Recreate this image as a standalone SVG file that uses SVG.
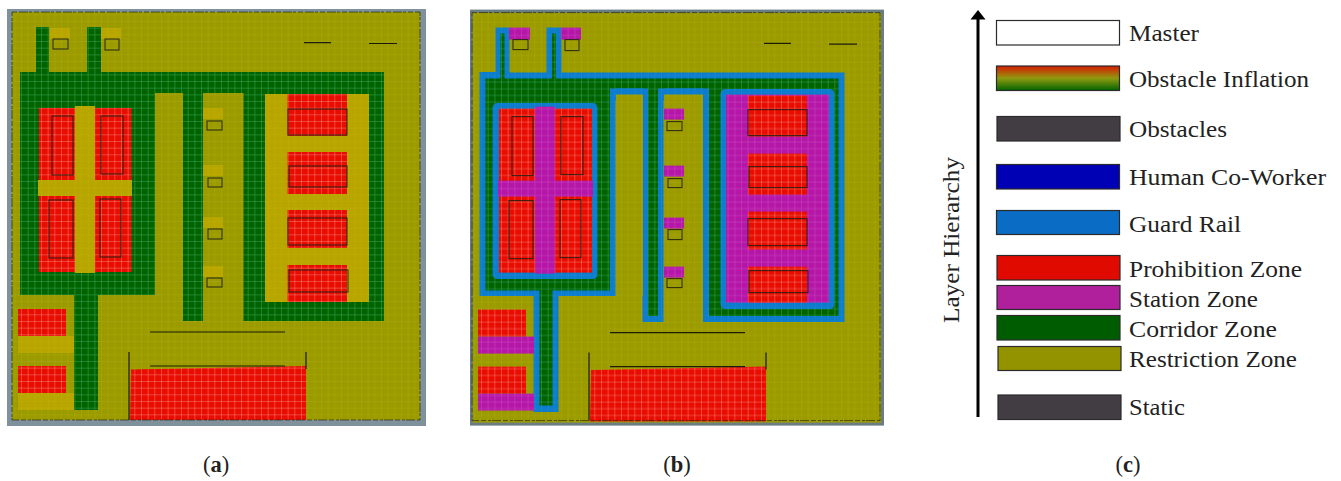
<svg xmlns="http://www.w3.org/2000/svg" xmlns:xlink="http://www.w3.org/1999/xlink" width="1341" height="481" viewBox="0 0 1341 481">
<style>
.ol{fill:url(#p-ol)}.gr{fill:url(#p-gr)}.rd{fill:url(#p-rd)}.ye{fill:url(#p-ye)}.ma{fill:url(#p-ma)}.bl{fill:url(#p-bl)}
.ob{fill:none;stroke:#1e1e12;stroke-width:1.1;opacity:.85}
.wl{fill:none;stroke:#1c1c0a;stroke-width:1.2}
.edge{fill:none;stroke:#26261a;stroke-width:.9;stroke-dasharray:5 2 9 1 3 2;opacity:.75}
.box{stroke:#2b2b2b;stroke-width:1.2}
.gl{fill:none;stroke-width:.7}
text{font-family:"Liberation Serif","Times New Roman",serif;fill:#222;font-size:23.5px}
.cap{font-size:22.5px}
.fuzzy{filter:url(#soft)}
</style>
<defs>
<filter id="soft" x="-2%" y="-2%" width="104%" height="104%"><feGaussianBlur stdDeviation="0.5"/></filter>
<pattern id="p-ol" width="20" height="20" patternUnits="userSpaceOnUse" x="1" y="1"><rect width="20" height="20" fill="#9b9b00"/><path class="gl" d="M0 .5H20M0 7.170H20M0 13.830H20M.5 0V20M7.170 0V20M13.830 0V20" stroke="#c4c440" stroke-opacity=".18"/></pattern>
<pattern id="p-gr" width="20" height="20" patternUnits="userSpaceOnUse" x="1" y="1"><rect width="20" height="20" fill="#006400"/><path class="gl" d="M0 .5H20M0 7.170H20M0 13.830H20M.5 0V20M7.170 0V20M13.830 0V20" stroke="#5fd0a0" stroke-opacity=".4"/></pattern>
<pattern id="p-rd" width="20" height="20" patternUnits="userSpaceOnUse" x="1" y="1"><rect width="20" height="20" fill="#e80c00"/><path class="gl" d="M0 .5H20M0 7.170H20M0 13.830H20M.5 0V20M7.170 0V20M13.830 0V20" stroke="#ffc0b0" stroke-opacity=".45"/></pattern>
<pattern id="p-ye" width="20" height="20" patternUnits="userSpaceOnUse" x="1" y="1"><rect width="20" height="20" fill="#b8a600"/><path class="gl" d="M0 .5H20M0 7.170H20M0 13.830H20M.5 0V20M7.170 0V20M13.830 0V20" stroke="#d8cc40" stroke-opacity=".12"/></pattern>
<pattern id="p-ma" width="20" height="20" patternUnits="userSpaceOnUse" x="1" y="1"><rect width="20" height="20" fill="#b618a8"/><path class="gl" d="M0 .5H20M0 7.170H20M0 13.830H20M.5 0V20M7.170 0V20M13.830 0V20" stroke="#e090e0" stroke-opacity=".25"/></pattern>
<pattern id="p-bl" width="20" height="20" patternUnits="userSpaceOnUse" x="1" y="1"><rect width="20" height="20" fill="#0a7ccc"/><path class="gl" d="M0 .5H20M0 7.170H20M0 13.830H20M.5 0V20M7.170 0V20M13.830 0V20" stroke="#70c0f0" stroke-opacity=".15"/></pattern>
<linearGradient id="infl" x1="0" y1="0" x2="0" y2="1"><stop offset="0" stop-color="#d81a00"/><stop offset=".5" stop-color="#8f9a10"/><stop offset="1" stop-color="#006400"/></linearGradient>
<g id="walls">
<g class="ob">
<rect x="53" y="39" width="15" height="10"/><rect x="105" y="39" width="14" height="11"/>
<rect x="52" y="116" width="21" height="59"/><rect x="101" y="116" width="22" height="58"/><rect x="49" y="200" width="24" height="58"/><rect x="100" y="199" width="21" height="58"/>
<rect x="207" y="121" width="15" height="9"/><rect x="208" y="178" width="14" height="9"/><rect x="208" y="229" width="14" height="10"/><rect x="207" y="278" width="15" height="9"/>
<rect x="288" y="109" width="59" height="26"/><rect x="289" y="166" width="58" height="21"/><rect x="288" y="218" width="59" height="27"/><rect x="289" y="270" width="59" height="22"/>
</g>
<path class="wl" d="M304 42.700H331M369 43.500H397M150 332H285M150 366H285M129 352V420M306 352V369"/>
<path class="edge" d="M12 12H420V420H12Z"/>
</g>
</defs>

<g id="panel-a" class="fuzzy">
<rect x="7" y="9" width="419" height="417" fill="#7f929b"/>
<rect class="ol" x="12" y="12" width="408" height="408"/>
<path class="gr" d="M36 27H49V72H87V27H101V72H384V321H243.500V93H203V321H183V93H155V295H98V410H74V295H20V72H36Z"/>
<path class="ye" d="M265 94H369V302H265Z"/>
<g class="rd">
<rect x="39" y="108" width="92.500" height="164"/>
<rect x="287.500" y="94" width="59.500" height="42"/><rect x="287.500" y="152" width="59.500" height="42"/><rect x="287.500" y="210" width="59.500" height="38"/><rect x="287.500" y="265" width="59.500" height="37"/>
<rect x="18" y="309" width="48" height="27"/><rect x="18" y="366" width="48" height="27"/>
<path d="M131 369.500L306 366V420H130Z"/>
</g>
<g class="ye">
<rect x="75" y="106" width="20" height="167"/><rect x="38" y="180" width="94" height="16"/>
<rect x="50" y="28" width="20" height="11"/><rect x="101" y="28" width="20" height="11"/>
<rect x="203" y="108" width="20" height="11"/><rect x="203" y="165" width="20" height="11"/><rect x="203" y="217" width="20" height="11"/><rect x="203" y="266" width="20" height="11"/>
<rect x="18" y="336" width="56" height="17"/><rect x="18" y="393" width="56" height="17"/>
</g>
<use href="#walls" xlink:href="#walls"/>
</g>

<g id="panel-b" class="fuzzy" transform="translate(460 .6)">
<rect x="10" y="9" width="414" height="416" fill="#6a7b84"/>
<rect class="ol" x="12.500" y="12" width="408.500" height="410"/>
<path class="bl" d="M35.500 27H49.500V72H86.500V27H101.500V72H384.500V321.500H243V93H203.500V321.500H182.500V93H155.500V295.500H98.500V411.500H73.500V295.500H19.500V71.500H35.500Z"/>
<path class="gr" d="M40.500 33H44.500V78H92V33H96V78H378.500V315.500H249V88H198V315.500H188V88H150V290H92.500V405H79.500V290H25.500V78H40.500Z"/>
<rect class="bl" x="32.500" y="102.500" width="105" height="176" rx="5"/>
<rect class="bl" x="260.500" y="88.500" width="114" height="220" rx="5"/>
<rect class="ma" x="266" y="94" width="103" height="208"/>
<path class="ol" d="M156 94H183V295H156ZM204 94H243V321H204Z"/>
<path class="bl" d="M151 94a6 6 0 0 1 6-6H182a6 6 0 0 1 6 6V100H183V94H156V100H151ZM199 94a6 6 0 0 1 6-6H243a6 6 0 0 1 6 6V100H243V94H204V100H199Z"/>
<g class="rd">
<rect x="39" y="108" width="93" height="164"/>
<rect x="288" y="95" width="59" height="41"/><rect x="288" y="153" width="59" height="41"/><rect x="288" y="211" width="59" height="38"/><rect x="288" y="266" width="59" height="36"/>
<rect x="18" y="309" width="48" height="27"/><rect x="18" y="366" width="48" height="27"/>
<path d="M131 369.500L306 366V421H130Z"/>
</g>
<g class="ma">
<rect x="75" y="106" width="20" height="167"/><rect x="38" y="180" width="95" height="16"/>
<rect x="49" y="27" width="21" height="12"/><rect x="101" y="27" width="20" height="12"/>
<rect x="204" y="108" width="20" height="11"/><rect x="204" y="165" width="20" height="11"/><rect x="204" y="217" width="20" height="11"/><rect x="204" y="266" width="20" height="11"/>
<rect x="18" y="336" width="56" height="17"/><rect x="18" y="393" width="56" height="17"/>
</g>
<use href="#walls" xlink:href="#walls"/>
</g>

<g id="arrow" class="connectors">
<path d="M978 417V17" stroke="#000" stroke-width="3" fill="none"/>
<path d="M970.500 19.500L978 10L985.500 19.500Z" fill="#000"/>
</g>
<text id="axis-label" transform="translate(959 323) rotate(-90)" textLength="166" lengthAdjust="spacingAndGlyphs">Layer Hierarchy</text>

<g id="legend-master"><rect class="box" x="996.500" y="20.500" width="123" height="24.500" fill="#fff"/><text x="1129" y="40.500" textLength="70" lengthAdjust="spacingAndGlyphs">Master</text></g>
<g id="legend-inflation"><rect class="box" x="996.500" y="66" width="123" height="24.500" fill="url(#infl)"/><text x="1129" y="87" textLength="180" lengthAdjust="spacingAndGlyphs">Obstacle Inflation</text></g>
<g id="legend-obstacles"><rect class="box" x="997" y="116.500" width="123" height="24.500" fill="#423d42"/><text x="1129" y="137" textLength="98" lengthAdjust="spacingAndGlyphs">Obstacles</text></g>
<g id="legend-human"><rect class="box" x="996.500" y="164.500" width="123" height="24.500" fill="#0000b4"/><text x="1129" y="185" textLength="197" lengthAdjust="spacingAndGlyphs">Human Co-Worker</text></g>
<g id="legend-guard"><rect class="box" x="996.500" y="210.500" width="123" height="24" fill="#0a6cc4"/><text x="1129" y="232" textLength="112" lengthAdjust="spacingAndGlyphs">Guard Rail</text></g>
<g id="legend-prohibition"><rect class="box" x="997" y="255.500" width="123" height="24.500" fill="#e00a00"/><text x="1129" y="277" textLength="173" lengthAdjust="spacingAndGlyphs">Prohibition Zone</text></g>
<g id="legend-station"><rect class="box" x="997" y="285.500" width="123" height="24" fill="#b0209c"/><text x="1129" y="307" textLength="129" lengthAdjust="spacingAndGlyphs">Station Zone</text></g>
<g id="legend-corridor"><rect class="box" x="997" y="315.500" width="123" height="24.500" fill="#005c00"/><text x="1129" y="337" textLength="148" lengthAdjust="spacingAndGlyphs">Corridor Zone</text></g>
<g id="legend-restriction"><rect class="box" x="998" y="346.500" width="123" height="24" fill="#939300"/><text x="1129" y="367" textLength="168" lengthAdjust="spacingAndGlyphs">Restriction Zone</text></g>
<g id="legend-static"><rect class="box" x="998" y="395" width="123" height="24.500" fill="#423d42"/><text x="1129" y="415" textLength="56" lengthAdjust="spacingAndGlyphs">Static</text></g>

<text id="caption-a" class="cap" x="216" y="472" text-anchor="middle">(<tspan font-weight="bold">a</tspan>)</text>
<text id="caption-b" class="cap" x="677" y="472" text-anchor="middle">(<tspan font-weight="bold">b</tspan>)</text>
<text id="caption-c" class="cap" x="1128" y="472" text-anchor="middle">(<tspan font-weight="bold">c</tspan>)</text>
</svg>
